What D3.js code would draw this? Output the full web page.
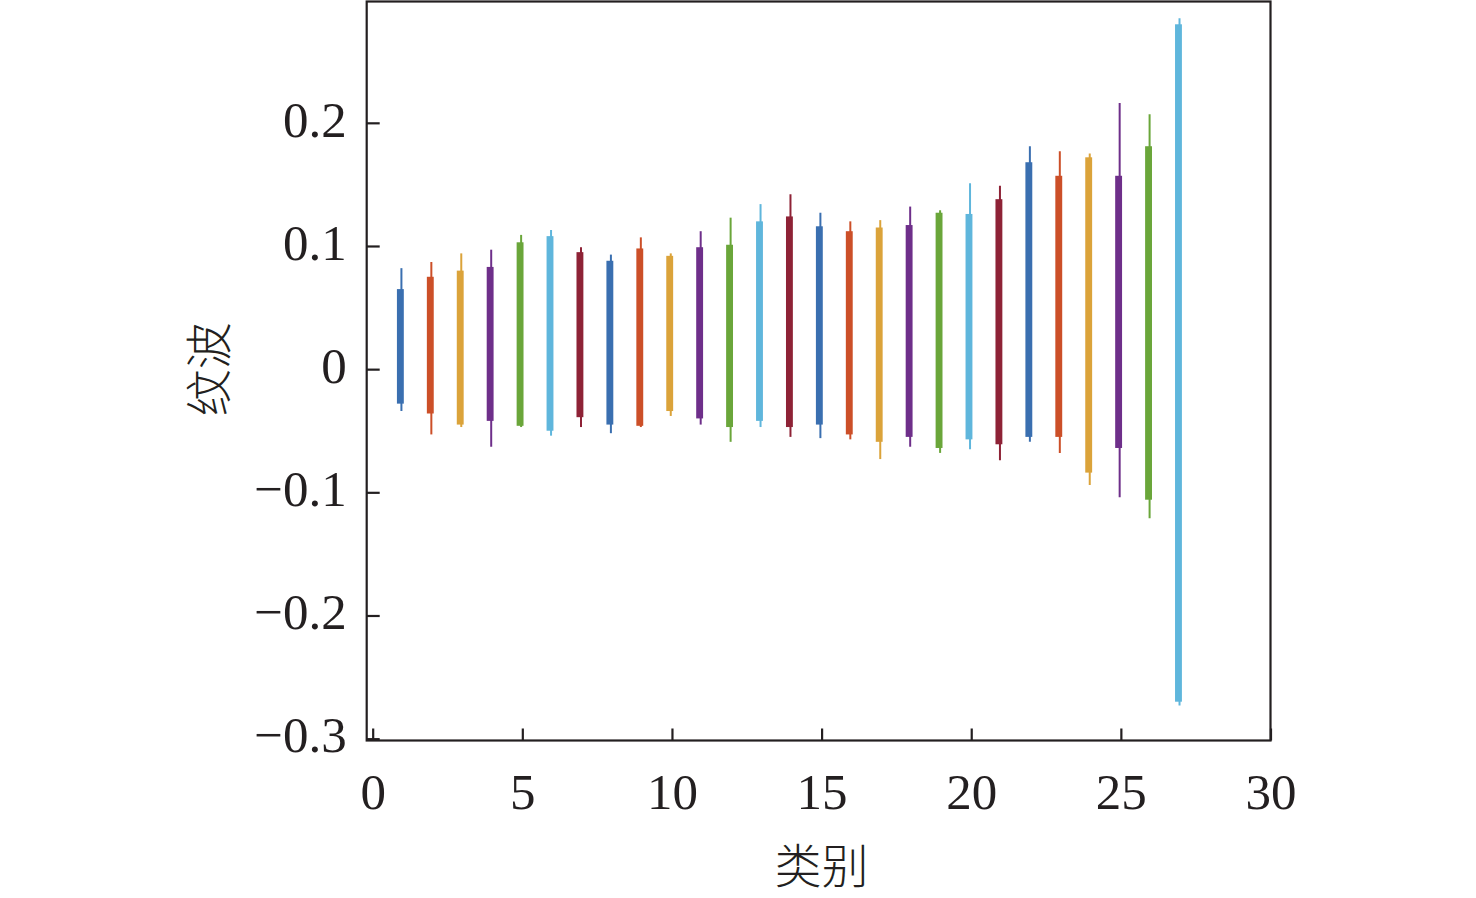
<!DOCTYPE html>
<html>
<head>
<meta charset="utf-8">
<script src="https://cdn.jsdelivr.net/npm/d3@7"></script>
<style>
	body { margin: 0; background: #fff; }
	.tick text { font-family: "Liberation Serif", "Times New Roman", serif; font-size: 51px; fill: #231f20; }
	.axis path, .axis line { stroke: #231f20; stroke-width: 2.2px; }
	.frame { fill: none; stroke: #231f20; stroke-width: 2.2px; }
	.label { font-family: "Noto Sans CJK SC", sans-serif; font-size: 47px; font-weight: 300; fill: #231f20; }
</style>
</head>
<body>
<svg id="svg_chart" width="1476" height="898"></svg>
<script>
// ripple range of each category
var categories = [1, 2, 3, 4, 5, 6, 7, 8, 9, 10, 11, 12, 13, 14, 15, 16, 17, 18, 19, 20, 21, 22, 23, 24, 25, 26, 27];
var spikeHi = [0.082, 0.087, 0.094, 0.097, 0.109, 0.113, 0.099, 0.093, 0.107, 0.094, 0.112, 0.123, 0.134, 0.142, 0.127, 0.120, 0.121, 0.132, 0.129, 0.151, 0.149, 0.181, 0.177, 0.175, 0.216, 0.207, 0.285];
var bodyHi = [0.065, 0.075, 0.080, 0.083, 0.103, 0.108, 0.095, 0.088, 0.098, 0.092, 0.099, 0.101, 0.120, 0.124, 0.116, 0.112, 0.115, 0.117, 0.127, 0.126, 0.138, 0.168, 0.157, 0.172, 0.157, 0.181, 0.280];
var bodyLo = [-0.028, -0.036, -0.045, -0.042, -0.046, -0.050, -0.039, -0.045, -0.046, -0.034, -0.040, -0.047, -0.042, -0.047, -0.045, -0.053, -0.059, -0.055, -0.064, -0.057, -0.061, -0.055, -0.055, -0.084, -0.064, -0.106, -0.270];
var spikeLo = [-0.034, -0.053, -0.047, -0.063, -0.047, -0.054, -0.047, -0.052, -0.047, -0.038, -0.045, -0.059, -0.047, -0.055, -0.056, -0.057, -0.073, -0.063, -0.068, -0.065, -0.074, -0.059, -0.068, -0.094, -0.104, -0.121, -0.273];

var xTicks = [0, 5, 10, 15, 20, 25, 30];
var yTicks = [-0.3, -0.2, -0.1, 0, 0.1, 0.2];
var yTickLabels = ["\u22120.3", "\u22120.2", "\u22120.1", "0", "0.1", "0.2"];
var colors = ["#3a6fb0", "#cc4f28", "#dba33a", "#6e2f8a", "#6aa63a", "#5fb6dc", "#8e2236"];

var plot_left = 366.7, plot_right = 1270.5, plot_top = 1.5, plot_bottom = 740.5;

var svg = d3.select("#svg_chart");

var x = d3.scaleLinear().domain([-0.2, 30]).range([plot_left, plot_right]);
var y = d3.scaleLinear().domain([-0.3015, 0.2985]).range([plot_bottom, plot_top]);

// bands: wide body plus thin spikes
var groups = svg.append("g")
	.selectAll("g")
	.data(categories)
	.join("g")
	.attr("fill", function(d, i) { return colors[i % colors.length]; })
	.attr("stroke", function(d, i) { return colors[i % colors.length]; });

groups.append("line")
	.attr("x1", function(d) { return x(d - 0.04); })
	.attr("x2", function(d) { return x(d - 0.04); })
	.attr("y1", function(d, i) { return y(spikeHi[i]); })
	.attr("y2", function(d, i) { return y(spikeLo[i]); })
	.attr("stroke-width", 2);

groups.append("rect")
	.attr("x", function(d) { return x(d - 0.19); })
	.attr("width", function(d) { return x(d + 0.04) - x(d - 0.19); })
	.attr("y", function(d, i) { return y(bodyHi[i]); })
	.attr("height", function(d, i) { return y(bodyLo[i]) - y(bodyHi[i]); })
	.attr("stroke", "none");

// axes, ticks point inward
var xAxis = svg.append("g")
	.attr("class", "axis")
	.attr("transform", "translate(0," + plot_bottom + ")")
	.call(d3.axisBottom(x).tickValues(xTicks).tickSize(-12).tickPadding(32).tickFormat(d3.format("d")));

var yAxis = svg.append("g")
	.attr("class", "axis")
	.attr("transform", "translate(" + plot_left + ",0)")
	.call(d3.axisLeft(y).tickValues(yTicks).tickSize(-13).tickPadding(20)
		.tickFormat(function(d, i) { return yTickLabels[i]; }));

yAxis.selectAll("text").attr("dy", "0.26em");

svg.selectAll(".axis .domain").remove();

svg.append("rect")
	.attr("class", "frame")
	.attr("x", plot_left)
	.attr("y", plot_top)
	.attr("width", plot_right - plot_left)
	.attr("height", plot_bottom - plot_top);

svg.append("text")
	.attr("class", "label")
	.attr("x", x(15))
	.attr("y", 883)
	.attr("text-anchor", "middle")
	.text("类别");

svg.append("text")
	.attr("class", "label")
	.attr("transform", "translate(226," + y(0) + ") rotate(-90)")
	.attr("text-anchor", "middle")
	.text("纹波");
</script>
</body>
</html>
